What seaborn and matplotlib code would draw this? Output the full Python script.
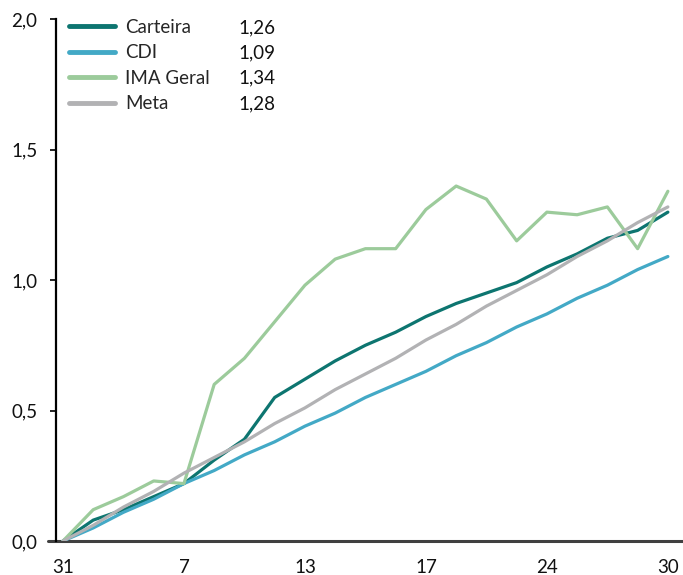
import matplotlib
matplotlib.use("Agg")
import matplotlib.pyplot as plt
import matplotlib.ticker as mticker
import numpy as np
import pandas as pd
import seaborn as sns

# Business days of the month (first point is the last day of the previous month)
dias = ["31", "1", "3", "6", "7", "8", "9", "10", "13", "14", "15", "16",
        "17", "20", "22", "23", "24", "27", "28", "29", "30"]

# Accumulated return (%)
carteira = [0.00, 0.08, 0.12, 0.17, 0.22, 0.31, 0.39, 0.55, 0.62, 0.69, 0.75,
            0.80, 0.86, 0.91, 0.95, 0.99, 1.05, 1.10, 1.16, 1.19, 1.26]
cdi = [0.00, 0.05, 0.11, 0.16, 0.22, 0.27, 0.33, 0.38, 0.44, 0.49, 0.55,
       0.60, 0.65, 0.71, 0.76, 0.82, 0.87, 0.93, 0.98, 1.04, 1.09]
ima_geral = [0.00, 0.12, 0.17, 0.23, 0.22, 0.60, 0.70, 0.84, 0.98, 1.08, 1.12,
             1.12, 1.27, 1.36, 1.31, 1.15, 1.26, 1.25, 1.28, 1.12, 1.34]
meta = [0.00, 0.06, 0.13, 0.19, 0.26, 0.32, 0.38, 0.45, 0.51, 0.58, 0.64,
        0.70, 0.77, 0.83, 0.90, 0.96, 1.02, 1.09, 1.15, 1.22, 1.28]

series = {"Carteira": carteira, "CDI": cdi, "IMA Geral": ima_geral, "Meta": meta}
cores = {"Carteira": "#0d7570", "CDI": "#43a9c6", "IMA Geral": "#9ccb9b", "Meta": "#b2b2b4"}

df = pd.concat(
    [pd.DataFrame({"pos": np.arange(len(dias)), "dia": dias, "serie": nome, "valor": vals})
     for nome, vals in series.items()],
    ignore_index=True,
)

sns.set_style("white")
plt.rcParams["font.family"] = ["Lato", "DejaVu Sans"]

FS = 13.5

fig = plt.figure(figsize=(6.83, 5.75), dpi=100)
ax = fig.add_axes([56 / 683, 34 / 575, 627 / 683, 522 / 575])

sns.lineplot(data=df, x="pos", y="valor", hue="serie", palette=cores,
             hue_order=list(series.keys()), linewidth=2.3, ax=ax, legend=False)

ax.set_xlim(-0.23, 20.5)
ax.set_ylim(0, 2.0)
ax.set_xlabel("")
ax.set_ylabel("")

ticks_x = list(range(0, len(dias), 4))
ax.set_xticks(ticks_x)
ax.set_xticklabels([dias[i] for i in ticks_x])
ax.set_yticks([0, 0.5, 1.0, 1.5, 2.0])
ax.yaxis.set_major_formatter(mticker.FuncFormatter(lambda v, p: f"{v:.1f}".replace(".", ",")))

ax.tick_params(axis="x", length=0, pad=13, labelsize=FS, colors="#111111")
ax.tick_params(axis="y", length=4.5, width=1.3, pad=9, labelsize=FS,
               colors="#111111", left=True)

for s in ["top", "right", "bottom"]:
    ax.spines[s].set_visible(False)
ax.spines["left"].set_color("black")
ax.spines["left"].set_linewidth(1.6)

# x-axis baseline, extended slightly past the y axis
ax.axhline(0, xmin=-8 / 627, xmax=1, color="#404040", linewidth=2.2,
           clip_on=False, zorder=1)

# Legend with final values column
handles = [plt.Line2D([], [], color=cores[n], linewidth=3.5) for n in series]
leg = ax.legend(handles, list(series.keys()), loc="upper left",
                bbox_to_anchor=(13 / 627, 1.0), frameon=False, fontsize=FS,
                handlelength=2.45, handletextpad=0.55, labelspacing=0.45,
                borderpad=0, borderaxespad=0)
fig.canvas.draw()
inv = fig.transFigure.inverted()
for txt, (nome, vals) in zip(leg.get_texts(), series.items()):
    bb = txt.get_window_extent()
    yc = inv.transform((0, (bb.y0 + bb.y1) / 2))[1]
    fig.text(238 / 683, yc, f"{vals[-1]:.2f}".replace(".", ","), fontsize=FS,
             va="center", ha="left", color="#111111")

fig.savefig("out.png", dpi=100)
